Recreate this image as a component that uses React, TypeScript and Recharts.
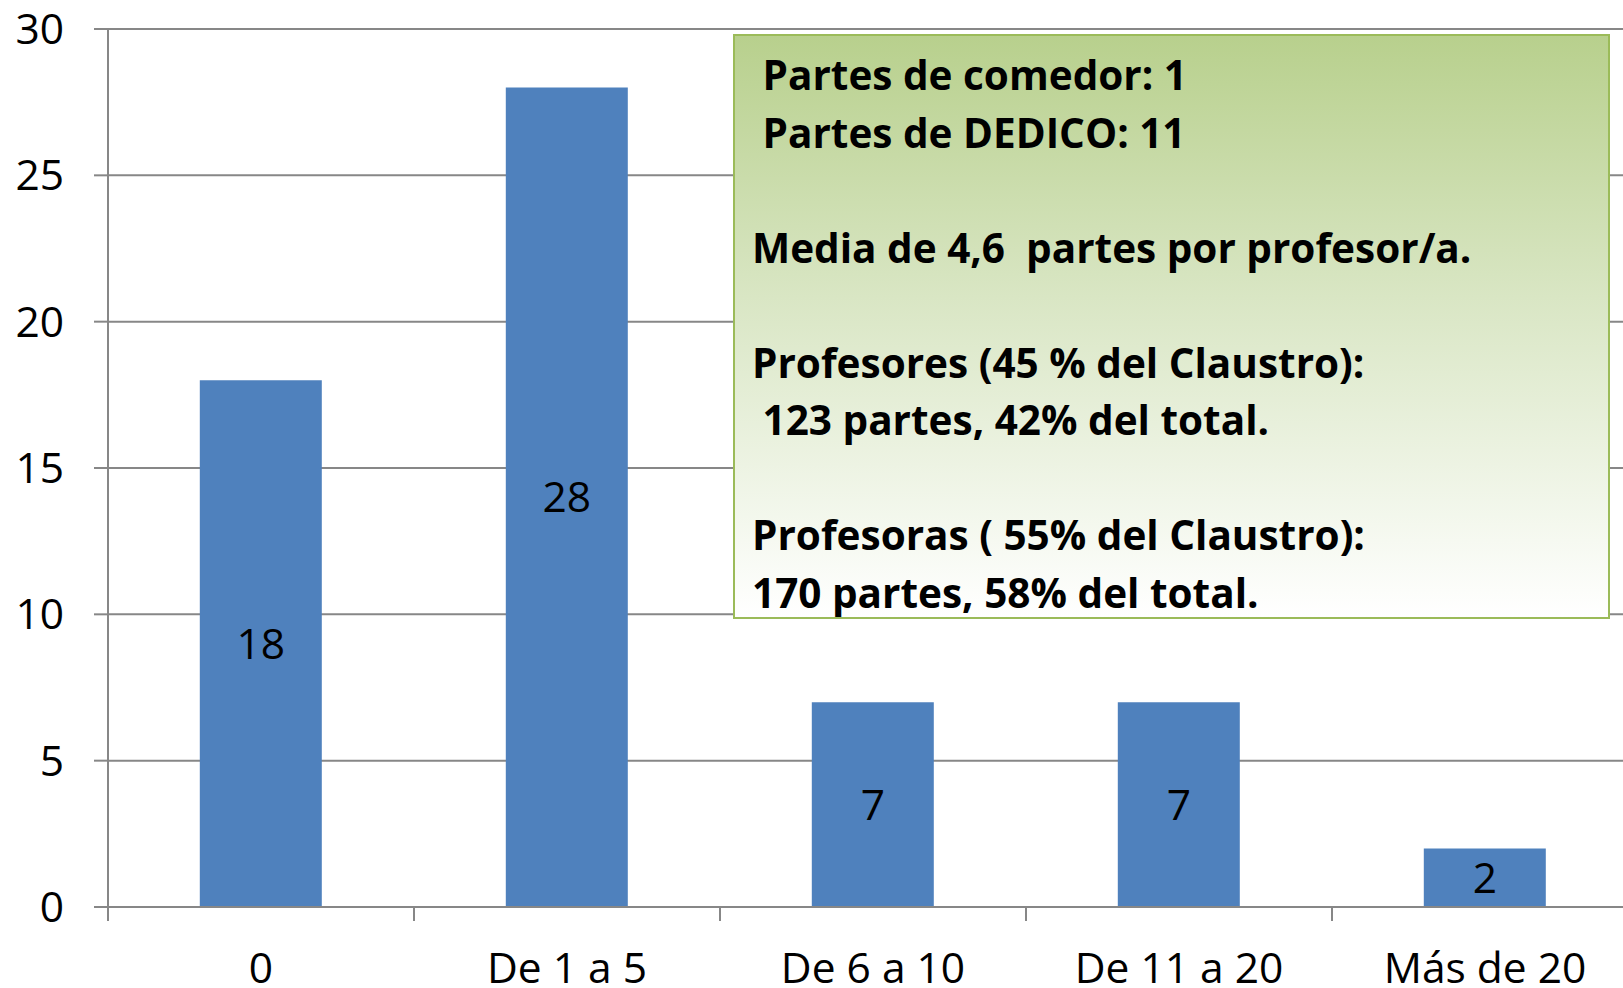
import React from 'react';
import { BarChart, Bar, XAxis, YAxis, CartesianGrid, LabelList } from 'recharts';

const categories = ['0', 'De 1 a 5', 'De 6 a 10', 'De 11 a 20', 'Más de 20'];
const profesores = [18, 28, 7, 7, 2];
const yTicks = [0, 5, 10, 15, 20, 25, 30];

const noteLines = [
  ' Partes de comedor: 1',
  ' Partes de DEDICO: 11',
  '',
  'Media de 4,6  partes por profesor/a.',
  '',
  'Profesores (45 % del Claustro):',
  ' 123 partes, 42% del total.',
  '',
  'Profesoras ( 55% del Claustro):',
  '170 partes, 58% del total.',
];

const data = categories.map((name, i) => ({ name, value: profesores[i] }));

const FONT = '"Open Sans", sans-serif';
const GRAY = '#878787';

// label at category centre, tick mark on the left boundary of each category
const CategoryTick = (props: any) => {
  const { x, y, payload } = props;
  const half = payload && payload.offset ? payload.offset : 153;
  return (
    <g>
      <line x1={x - half} y1={y - 8} x2={x - half} y2={y + 6} stroke={GRAY} strokeWidth={2} />
      <text x={x} y={y + 68} textAnchor="middle" fontSize={42.5} fontFamily={FONT} fill="#000">
        {payload.value}
      </text>
    </g>
  );
};

const App = () => {
  return (
    <div style={{ position: 'absolute', left: 0, top: 0, width: 1623, height: 988, overflow: 'hidden', background: '#fff' }}>
      <BarChart
        width={1640}
        height={988}
        data={data}
        margin={{ top: 29, right: 2, bottom: 0, left: 0 }}
        barCategoryGap="30%"
      >
        <CartesianGrid vertical={false} stroke={GRAY} strokeWidth={2} />
        <XAxis
          dataKey="name"
          axisLine={{ stroke: GRAY, strokeWidth: 2 }}
          tickLine={false}
          tick={<CategoryTick />}
          height={81}
          interval={0}
        />
        <YAxis
          width={108}
          domain={[0, 30]}
          ticks={yTicks}
          interval={0}
          axisLine={{ stroke: GRAY, strokeWidth: 2 }}
          tickLine={{ stroke: GRAY, strokeWidth: 2 }}
          tickSize={14}
          tickMargin={30}
          tick={{ fontSize: 42.5, fontFamily: FONT, fill: '#000' }}
        />
        <Bar dataKey="value" fill="#4f81bd" isAnimationActive={false}>
          <LabelList dataKey="value" position="center" fontSize={42.5} fontFamily={FONT} fill="#000" />
        </Bar>
      </BarChart>
      <div
        style={{
          position: 'absolute',
          left: 733,
          top: 34,
          width: 856,
          height: 571,
          border: '2px solid #9bbb59',
          background: 'linear-gradient(to bottom, #b8d08d 0%, #d9e6c4 45%, #ffffff 100%)',
          padding: '10px 0 0 17px',
          boxSizing: 'content-box',
          fontFamily: FONT,
          fontWeight: 700,
          fontSize: 40.5,
          lineHeight: '57.5px',
          color: '#000',
          whiteSpace: 'pre',
          overflow: 'hidden',
        }}
      >
        {noteLines.map((l, i) => (
          <div key={i} style={{ height: 57.5 }}>{l}</div>
        ))}
      </div>
    </div>
  );
};

export default App;
